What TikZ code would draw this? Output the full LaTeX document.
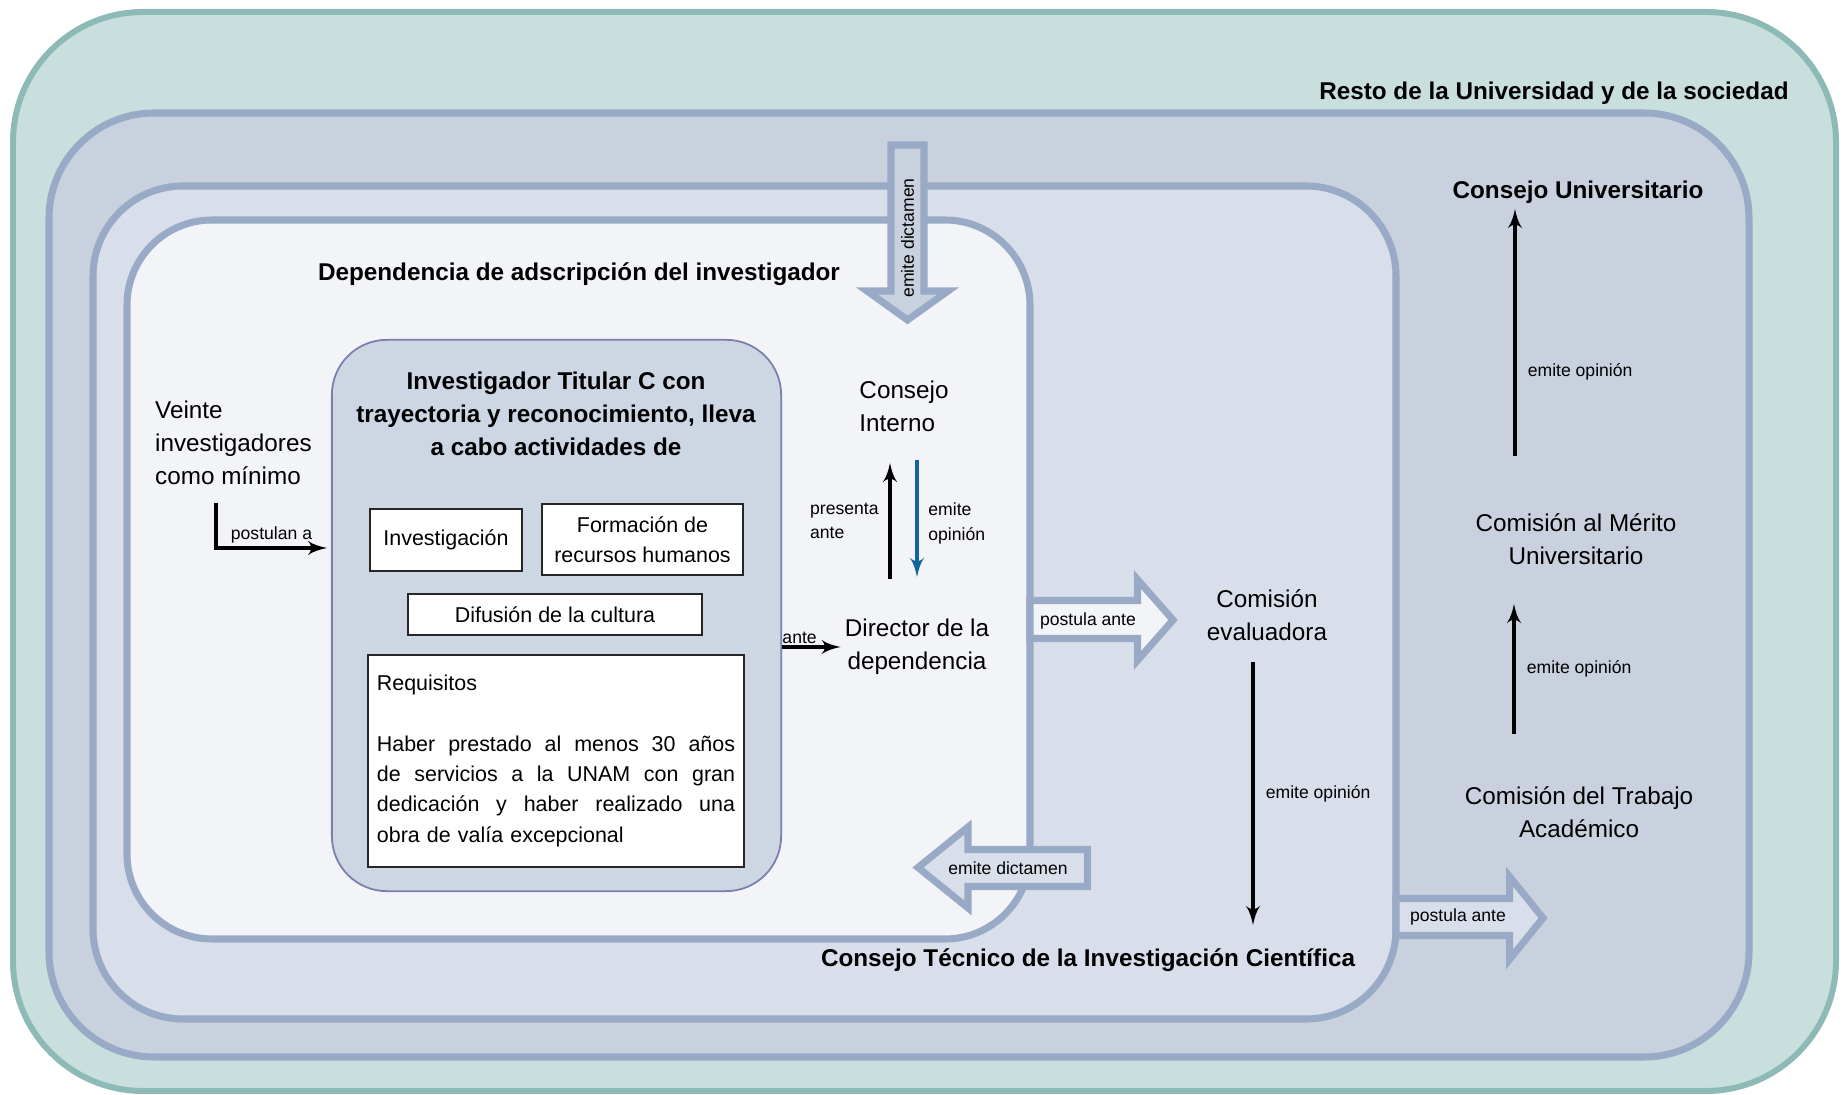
\documentclass[tikz,border=0pt]{standalone}
\usepackage{fontspec}
\setmainfont{Liberation Sans}
\usepackage{tikz}
\usetikzlibrary{arrows}
\usetikzlibrary{positioning}
\usetikzlibrary{calc}

\definecolor{tealfill}{RGB}{201,223,222}
\definecolor{tealline}{RGB}{141,185,182}
\definecolor{unamfill}{RGB}{202,209,222}
\definecolor{regline}{RGB}{152,170,197}
\definecolor{ticfill}{RGB}{217,223,234}
\definecolor{depfill}{RGB}{242,244,248}
\definecolor{itcfill}{RGB}{205,215,228}
\definecolor{itcline}{RGB}{122,127,176}
\definecolor{opblue}{RGB}{20,101,154}

\newcommand{\mainsize}{\fontsize{6.9}{9.3}\selectfont}
\newcommand{\labelsize}{\fontsize{5}{7}\selectfont}
\newcommand{\boxsize}{\fontsize{6.1}{8.6}\selectfont}
\newcommand{\reqline}[1]{\leavevmode\hbox to 3.58cm{\spaceskip=\fontdimen2\font plus 1fil\relax #1}}

\begin{document}
\begin{tikzpicture}[x=0.01cm, y=-0.01cm,
		region/.style={draw=regline, line width=2pt},
		lbl/.style={font=\mainsize, align=center, inner sep=1pt},
		ttl/.style={font=\mainsize\bfseries, align=center, inner sep=1pt},
		small/.style={font=\labelsize, align=left, inner sep=1pt},
		actbox/.style={draw=black!85, fill=white, line width=0.5pt, font=\boxsize, align=center, inner sep=0pt},
		arr/.style={-latex', line width=0.9pt},
		blkarr/.style={draw=regline, line width=2pt}]

	\useasboundingbox (0,0) rectangle (1845,1095);

	% nested regions
	\draw[fill=tealfill, draw=tealline, line width=1.7pt, rounded corners=1.3cm] (13,12) rectangle (1836,1091);
	\draw[region, fill=unamfill, rounded corners=1.05cm] (49,113) rectangle (1749,1057);
	\draw[region, fill=ticfill, rounded corners=0.9cm] (93,186) rectangle (1396,1019);
	\draw[region, fill=depfill, rounded corners=0.85cm] (127,220) rectangle (1030,939);

	% block arrows
	\draw[blkarr, fill=unamfill] (891,145) -- (924,145) -- (924,291) -- (948,291) -- (907.5,320) -- (867,291) -- (891,291) -- cycle;
	\node[small, rotate=90] (dictamen1) at (907.5,238) {emite dictamen};
	\draw[blkarr, fill=depfill] (1030,600.5) -- (1137.5,600.5) -- (1137.5,579.5) -- (1173,620) -- (1137.5,660.5) -- (1137.5,638.5) -- (1030,638.5) -- cycle;
	\node[small] (postula1) at (1088,621) {postula ante};
	\draw[blkarr, fill=ticfill] (1087.5,849.5) -- (968,849.5) -- (968,827) -- (918,867.5) -- (968,908) -- (968,886.5) -- (1087.5,886.5) -- cycle;
	\node[small] (dictamen2) at (1008,868) {emite dictamen};
	\draw[blkarr, fill=ticfill] (1396,898.5) -- (1509.5,898.5) -- (1509.5,876.5) -- (1543,918) -- (1509.5,959.5) -- (1509.5,935.5) -- (1396,935.5) -- cycle;
	\node[small] (postula2) at (1458,917) {postula ante};

	% region titles
	\node[ttl] (resto) at (1554,93) {Resto de la Universidad y de la sociedad};
	\node[ttl] (cu) at (1578,192) {Consejo Universitario};
	\node[ttl] (ctic) at (1088,960) {Consejo Técnico de la Investigación Científica};
	\node[ttl] (dep) at (579,274) {Dependencia de adscripción del investigador};

	% investigador
	\node[draw=itcline, fill=itcfill, line width=0.5pt, rounded corners=0.55cm, minimum width=4.49cm, minimum height=5.51cm] (itc) at (556.5,615.5) {};
	\node[ttl] (itctitle) at (556,414) {Investigador Titular C con\\trayectoria y reconocimiento, lleva\\a cabo actividades de};
	\node[actbox, minimum width=1.52cm, minimum height=0.62cm] (inv) at (446,540) {Investigación};
	\node[actbox, minimum width=2.01cm, minimum height=0.71cm] (frh) at (642.5,539.5) {Formación de\\recursos humanos};
	\node[actbox, minimum width=2.94cm, minimum height=0.41cm] (dif) at (555,614.5) {Difusión de la cultura};
	\node[actbox, minimum width=3.76cm, minimum height=2.12cm, text width=3.58cm, align=left] (req) at (556,761) {Requisitos\\[8.6pt]
		\reqline{Haber prestado al menos 30 años}\\
		\reqline{de servicios a la UNAM con gran}\\
		\reqline{dedicación y haber realizado una}\\
		obra de valía excepcional};

	% actors
	\node[lbl, align=left, anchor=west] (veinte) at (151,443) {Veinte\\investigadores\\como mínimo};
	\node[lbl, align=left] (ci) at (904,406) {Consejo\\Interno};
	\node[lbl] (dir) at (917,647) {Director de la\\dependencia};
	\node[lbl] (ce) at (1267,615) {Comisión\\evaluadora};
	\node[lbl] (cmu) at (1576,539) {Comisión al Mérito\\Universitario};
	\node[lbl] (cta) at (1579,812) {Comisión del Trabajo\\Académico};

	% connectors
	\coordinate (veinte-out) at (216,503);
	\coordinate (itc-in) at (327,548);
	\draw[arr] (veinte-out) |- node[small, above, pos=0.75] {postulan a} (itc-in);
	\draw[arr] (itc.east |- dir.west) -- node[small, above, pos=0.3, inner sep=0.5pt] {ante} (dir.west);

	\coordinate (pa-start) at (890,579);
	\coordinate (pa-end) at (890,463);
	\draw[arr] (pa-start) -- node[small, left, xshift=-1.8pt] {presenta\\ante} (pa-end);
	\coordinate (eo-start) at (917,460);
	\coordinate (eo-end) at (917,577);
	\draw[arr, color=opblue] (eo-start) -- node[small, right, xshift=1.8pt, yshift=-1.4pt, text=black] {emite\\opinión} (eo-end);

	\coordinate (ce-out) at (1253,662);
	\coordinate (ctic-in) at (1253,925);
	\draw[arr] (ce-out) -- node[small, right, xshift=2.2pt] {emite opinión} (ctic-in);
	\coordinate (cta-out) at (1514,734);
	\coordinate (cmu-in) at (1514,604);
	\draw[arr] (cta-out) -- node[small, right, xshift=2.2pt] {emite opinión} (cmu-in);
	\coordinate (cmu-out) at (1515,456);
	\coordinate (cu-in) at (1515,209);
	\draw[arr] (cmu-out) -- node[small, right, pos=0.34, xshift=2.2pt] {emite opinión} (cu-in);

\end{tikzpicture}
\end{document}
